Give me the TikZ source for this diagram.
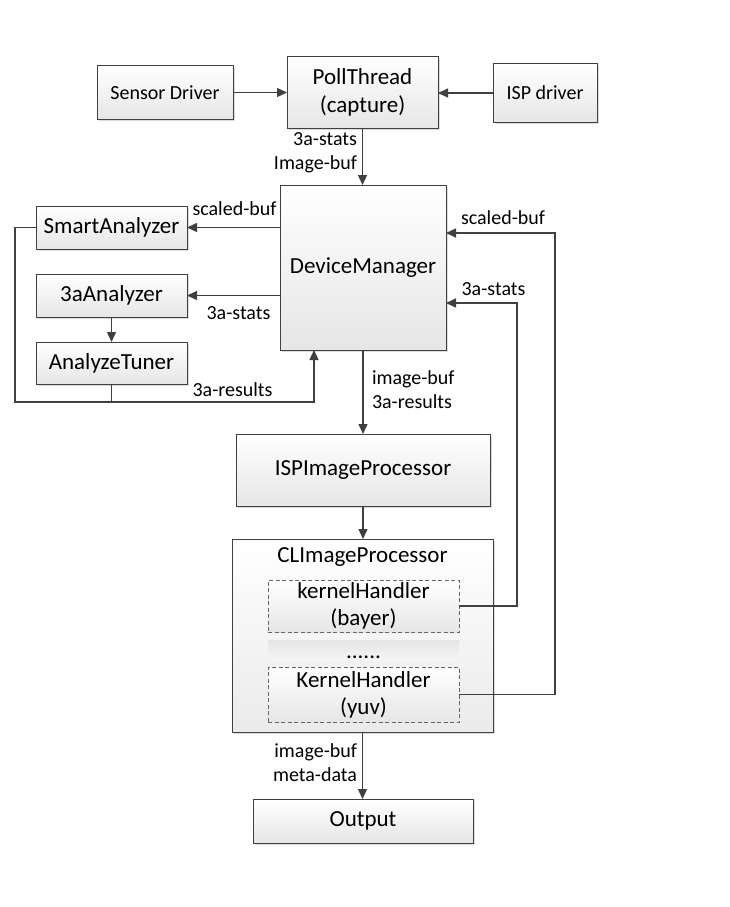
\documentclass[tikz,border=0pt]{standalone}
\usepackage{fontspec}
\setmainfont{Carlito}
\usetikzlibrary{arrows.meta,shadows,calc}
\definecolor{ink}{HTML}{404040}
\definecolor{boxbot}{HTML}{E6E6E6}
\begin{document}
\begin{tikzpicture}[x=1pt,y=-1pt,
  every node/.style={inner sep=0pt,outer sep=0pt},
  box/.style={draw=ink,line width=1pt,top color=white,bottom color=boxbot,
    drop shadow={shadow xshift=2pt,shadow yshift=-2pt,fill=black!30,opacity=0.45},
    align=center,font=\fontsize{23}{28}\selectfont},
  smallbox/.style={box,font=\fontsize{20}{24}\selectfont},
  dbox/.style={draw=ink!80,line width=0.9pt,dash pattern=on 4pt off 2.5pt,
    top color=white,bottom color=boxbot,align=center,font=\fontsize{23}{27}\selectfont},
  lbl/.style={font=\fontsize{20}{24}\selectfont},
  link/.style={draw=ink,line width=1.4pt},
  arr/.style={link,-{Triangle[length=10pt,width=9pt]}}]

\useasboundingbox (0,0) rectangle (729,907);

% capture stage
\node[smallbox,minimum width=136pt,minimum height=53pt] (sensor) at (165,92.5) {Sensor Driver};
\node[box,minimum width=151pt,minimum height=71pt] (poll) at (362.5,92.5) {PollThread\\(capture)};
\node[smallbox,minimum width=104pt,minimum height=58pt] (ispdrv) at (545,93) {ISP driver};

% device manager and analyzers
\node[box,minimum width=166pt,minimum height=165pt] (dm) at (363,267.5) {DeviceManager};
\node[box,minimum width=151pt,minimum height=43pt] (smart) at (111.5,227.5) {SmartAnalyzer};
\node[box,minimum width=151pt,minimum height=43pt] (aaa) at (111.5,295.5) {3aAnalyzer};
\node[box,minimum width=151pt,minimum height=42pt] (tuner) at (111.5,363) {AnalyzeTuner};

% processing pipeline
\node[box,minimum width=254pt,minimum height=72pt] (isp) at (363,470) {ISPImageProcessor};
\node[draw=ink,line width=1pt,top color=white,bottom color=black!8,
  drop shadow={shadow xshift=2pt,shadow yshift=-2pt,fill=black!30,opacity=0.45},
  minimum width=261pt,minimum height=193pt] (cl) at (362.5,635.5) {};
\node[font=\fontsize{23}{28}\selectfont] (cltitle) at (362.5,557) {CLImageProcessor};
\node[dbox,minimum width=191pt,minimum height=52pt] (bayer) at (363.5,606) {kernelHandler\\(bayer)};
\node[top color=black!10,bottom color=black!4,minimum width=191pt,minimum height=20pt] (dots) at (363.5,650) {};
\node[font=\fontsize{23}{28}\selectfont,anchor=base] (dotstext) at (363.5,658) {......};
\node[dbox,minimum width=191pt,minimum height=55pt] (yuv) at (363.5,694.5) {KernelHandler\\(yuv)};
\node[box,minimum width=220pt,minimum height=44pt] (out) at (363,821) {Output};

% turning points of the feedback lines
\coordinate (fbL) at (15,402);
\coordinate (fbR) at (314,402);
\coordinate (bR) at (517,303);
\coordinate (yR) at (555,233);

% connectors
\draw[arr] (sensor.east) -- (sensor.east -| poll.west);
\draw[arr] (ispdrv.west) -- (ispdrv.west -| poll.east);
\draw[arr] (poll.south) -- (poll.south |- dm.north);
\draw[arr] (dm.west |- smart.east) -- (smart.east);
\draw[arr] (dm.west |- aaa.east) -- (aaa.east);
\draw[arr] (aaa.south) -- (tuner.north);
\draw[arr] (smart.west) -| (fbL) -- (fbR) -- (fbR |- dm.south);
\draw[link] (tuner.south) -- (tuner.south |- fbL);
\draw[arr] (dm.south) -- (dm.south |- isp.north);
\draw[arr] (isp.south) -- (isp.south |- cl.north);
\draw[arr] (cl.south) -- (cl.south |- out.north);
\draw[arr] (bayer.east) -| (bR) -- (bR -| dm.east);
\draw[arr] (yuv.east) -| (yR) -- (yR -| dm.east);

% connector labels
\node[lbl,anchor=east,align=right] (l1) at (357,153) {3a-stats\\Image-buf};
\node[lbl] (l2) at (234.5,209) {scaled-buf};
\node[lbl] (l3) at (238.5,313) {3a-stats};
\node[lbl] (l4) at (232.5,390) {3a-results};
\node[lbl,anchor=west,align=left] (l5) at (372,390) {image-buf\\3a-results};
\node[lbl] (l6) at (503,218) {scaled-buf};
\node[lbl] (l7) at (493.5,289) {3a-stats};
\node[lbl,anchor=east,align=right] (l8) at (357,762.5) {image-buf\\meta-data};
\end{tikzpicture}
\end{document}
